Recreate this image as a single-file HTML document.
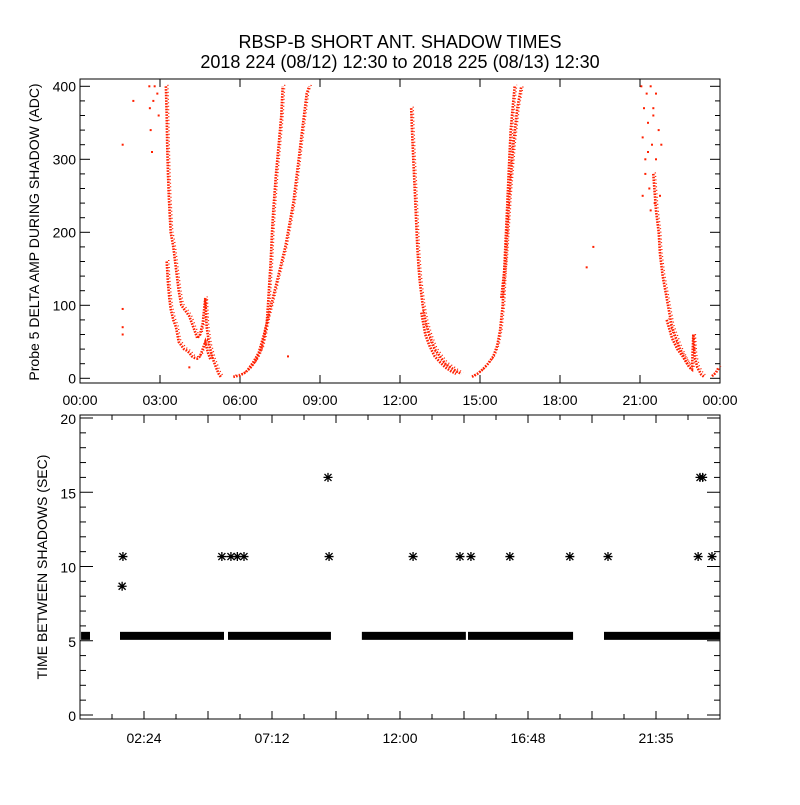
<!DOCTYPE html>
<html><head><meta charset="utf-8"><style>
html,body{margin:0;padding:0;background:#fff}
svg text{font-family:"Liberation Sans",sans-serif;fill:#000}
</style></head><body>
<svg id="c" width="800" height="800" viewBox="0 0 800 800" xmlns="http://www.w3.org/2000/svg">
<rect width="800" height="800" fill="#fff"/>
<text x="400" y="48" font-size="18" text-anchor="middle">RBSP-B SHORT ANT. SHADOW TIMES</text>
<text x="400" y="68" font-size="18" text-anchor="middle">2018 224 (08/12) 12:30 to 2018 225 (08/13) 12:30</text>
<g id="topg"></g>
<g id="botg"></g>
<text transform="translate(39,232) rotate(-90)" font-size="14" text-anchor="middle">Probe 5 DELTA AMP DURING SHADOW (ADC)</text>
<text transform="translate(47,567) rotate(-90)" font-size="14" text-anchor="middle">TIME BETWEEN SHADOWS (SEC)</text>
</svg>
<script>
// ---- top panel data (hours, ADC) ----
const pass1OuterH = [3.22,3.25,3.27,3.3,3.33,3.37,3.4,3.5,3.6,3.7,3.8,3.9,4.0,4.1,4.2,4.3,4.4,4.5,4.6,4.7,4.75,4.85,5.0,5.1,5.2,5.3];
const pass1OuterV = [400,360,320,280,250,220,200,180,150,120,100,95,90,85,75,65,55,60,75,110,70,45,25,15,6,1];
const pass1InnerH = [3.25,3.3,3.35,3.4,3.5,3.6,3.7,3.8,3.9,4.0,4.1,4.2,4.3,4.4,4.5,4.6,4.7,4.8,4.9];
const pass1InnerV = [160,130,110,95,80,70,50,45,40,38,35,30,28,27,30,40,50,35,25];
const rise1AH = [5.75,6.0,6.2,6.4,6.6,6.8,6.9,7.0,7.05,7.1,7.15,7.2,7.25,7.35,7.45,7.55,7.6];
const rise1AV = [2,4,8,15,25,40,55,75,100,130,160,200,230,280,320,360,400];
const rise1BH = [6.3,6.5,6.7,6.9,7.1,7.3,7.5,7.7,7.85,8.0,8.1,8.2,8.3,8.4,8.5,8.6];
const rise1BV = [12,22,35,60,90,120,150,180,210,240,270,300,330,360,390,400];
const pass2AH = [12.42,12.45,12.5,12.55,12.6,12.65,12.7,12.75,12.85,12.95,13.1,13.3,13.5,13.7,13.9,14.1,14.3];
const pass2AV = [370,340,300,260,220,180,150,130,100,80,60,40,30,20,15,10,6];
const pass2BH = [12.8,12.95,13.1,13.3,13.5,13.7,13.9,14.1];
const pass2BV = [90,60,45,30,22,15,10,6];
const rise2AH = [14.7,14.9,15.1,15.3,15.5,15.65,15.75,15.85,15.9,15.95,16.0,16.05,16.1,16.15,16.25,16.3];
const rise2AV = [2,6,12,20,30,45,65,100,140,180,220,260,300,340,380,400];
const rise2BH = [15.8,15.95,16.1,16.25,16.4,16.55];
const rise2BV = [110,160,250,320,370,400];
const pass3AH = [21.5,21.6,21.7,21.75,21.85,22.0,22.1,22.2,22.35,22.5,22.7,22.85,22.95,23.0,23.05,23.15,23.3,23.4];
const pass3AV = [280,230,200,170,140,110,90,70,55,40,25,15,12,60,30,15,5,2];
const pass3BH = [22.0,22.2,22.4,22.6,22.8];
const pass3BV = [80,55,40,30,18];
const rise3H = [23.7,23.85,23.95];
const rise3V = [3,8,15];
const scatterH = [2.6,2.62,2.65,2.7,2.75,2.8,2.9,2.95,1.6,1.6,1.6,1.6,2.0,21.05,21.1,21.15,21.2,21.25,21.3,21.35,21.4,21.45,21.5,21.55,21.6,21.1,21.2,21.3,21.4,21.5,21.6,21.7,21.75,21.8,19.0,19.25,7.8,4.1];
const scatterV = [400,370,340,310,380,400,390,360,320,95,70,60,380,400,330,370,300,390,350,260,400,320,370,240,390,250,280,310,230,360,300,340,250,320,152,180,30,15];
const topXTicks = ["00:00","03:00","06:00","09:00","12:00","15:00","18:00","21:00","00:00"];
const topYTicks = [0,100,200,300,400];
// ---- bottom panel data ----
const bandStart = [0.04,1.5,5.55,10.57,14.55,19.65];
const bandEnd = [0.375,5.4,9.41,14.47,18.49,24.0];
const bandValue = [5.33,5.33,5.33,5.33,5.33,5.33];
const starH = [1.61,1.58,5.32,5.66,5.9,6.15,9.3,9.34,12.49,14.25,14.66,16.12,18.37,19.8,23.18,23.7,23.25,23.35];
const starV = [10.67,8.67,10.67,10.67,10.67,10.67,16,10.67,10.67,10.67,10.67,10.67,10.67,10.67,10.67,10.67,16,16];
const botXLabels = ["02:24","07:12","12:00","16:48","21:35"];
const botYTicks = [0,5,10,15,20];

const NS = "http://www.w3.org/2000/svg";
function mk(p, tag, a){const e=document.createElementNS(NS,tag);for(const k in a)e.setAttribute(k,a[k]);p.appendChild(e);return e;}
const PL=80,PR=720;
const hx = h => PL + h/24*(PR-PL);
const ty = v => 378.3 - v*0.73;
const by = v => 715 - v*14.85;
const topG=document.getElementById('topg'), botG=document.getElementById('botg');

let f=mk(topG,'rect',{x:PL,y:79,width:PR-PL,height:304,fill:'none',stroke:'#000','stroke-width':1});


for(let v=0;v<=400;v+=20){const maj=v%100===0;
  mk(topG,'line',{x1:PL,x2:PL+(maj?10:5),y1:ty(v),y2:ty(v),stroke:'#000'});
  mk(topG,'line',{x1:PR,x2:PR-(maj?10:5),y1:ty(v),y2:ty(v),stroke:'#000'});}
topYTicks.forEach(v=>{const t=mk(topG,'text',{x:PL-4,y:ty(v)+5,'font-size':14,'text-anchor':'end'});t.textContent=v;
  
  });
topXTicks.forEach((s,i)=>{const x=hx(i*3);
  mk(topG,'line',{x1:x,x2:x,y1:383,y2:375,stroke:'#000'});mk(topG,'line',{x1:x,x2:x,y1:79,y2:87,stroke:'#000'});
  const t=mk(topG,'text',{x:x,y:405,'font-size':14,'text-anchor':'middle'});t.textContent=s;
  
  });
function series(H,V,name){const pts=H.map((h,i)=>hx(h).toFixed(1)+','+ty(V[i]).toFixed(1)).join(' ');
  const p=mk(topG,'polyline',{points:pts,fill:'none',stroke:'#ff2000','stroke-width':2.6,'stroke-dasharray':'1.6 1.2'});
  
  
  mk(topG,'polyline',{points:H.map((h,i)=>(hx(h)+2).toFixed(1)+','+(ty(V[i])-1.5).toFixed(1)).join(' '),fill:'none',stroke:'#ff2000','stroke-width':1.4,'stroke-dasharray':'1 2.5'});}
series(pass1OuterH,pass1OuterV,'pass1-outer-series');
series(pass1InnerH,pass1InnerV,'pass1-inner-series');
series(rise1AH,rise1AV,'rise1-a-series');
series(rise1BH,rise1BV,'rise1-b-series');
series(pass2AH,pass2AV,'pass2-a-series');
series(pass2BH,pass2BV,'pass2-b-series');
series(rise2AH,rise2AV,'rise2-a-series');
series(rise2BH,rise2BV,'rise2-b-series');
series(pass3AH,pass3AV,'pass3-a-series');
series(pass3BH,pass3BV,'pass3-b-series');
series(rise3H,rise3V,'rise3-series');
scatterH.forEach((h,i)=>{const r=mk(topG,'rect',{x:hx(h)-1,y:ty(scatterV[i])-1,width:2,height:2,fill:'#ff2000'});
  
  });

f=mk(botG,'rect',{x:PL,y:415,width:PR-PL,height:304,fill:'none',stroke:'#000','stroke-width':1});


for(let v=0;v<=20;v++){const maj=v%5===0;
  mk(botG,'line',{x1:PL,x2:PL+(maj?13:6),y1:by(v),y2:by(v),stroke:'#000'});
  mk(botG,'line',{x1:PR,x2:PR-(maj?13:6),y1:by(v),y2:by(v),stroke:'#000'});}
botYTicks.forEach(v=>{const t=mk(botG,'text',{x:PL-4,y:by(v)+6,'font-size':14,'text-anchor':'end'});t.textContent=v;
  
  });
for(let k=1;k<20;k++){const x=hx(k*1.2);const maj=k%2===0;
  mk(botG,'line',{x1:x,x2:x,y1:719,y2:719-(maj?8:5),stroke:'#000'});mk(botG,'line',{x1:x,x2:x,y1:415,y2:415+(maj?8:5),stroke:'#000'});}
botXLabels.forEach((s,i)=>{const t=mk(botG,'text',{x:hx(2.4+i*4.8),y:743,'font-size':14,'text-anchor':'middle'});t.textContent=s;
  
  });
bandStart.forEach((s,i)=>{const r=mk(botG,'rect',{x:hx(s),y:by(bandValue[i])-4,width:hx(bandEnd[i])-hx(s),height:8,fill:'#000'});
  
  });
starH.forEach((h,i)=>{const x=hx(h),y=by(starV[i]);
  const g=mk(botG,'path',{d:`M${x-4.5},${y}H${x+4.5}M${x},${y-4.5}V${y+4.5}M${x-3.5},${y-3.5}L${x+3.5},${y+3.5}M${x-3.5},${y+3.5}L${x+3.5},${y-3.5}`,stroke:'#000','stroke-width':1.3});
  
  });
</script>
</body></html>
